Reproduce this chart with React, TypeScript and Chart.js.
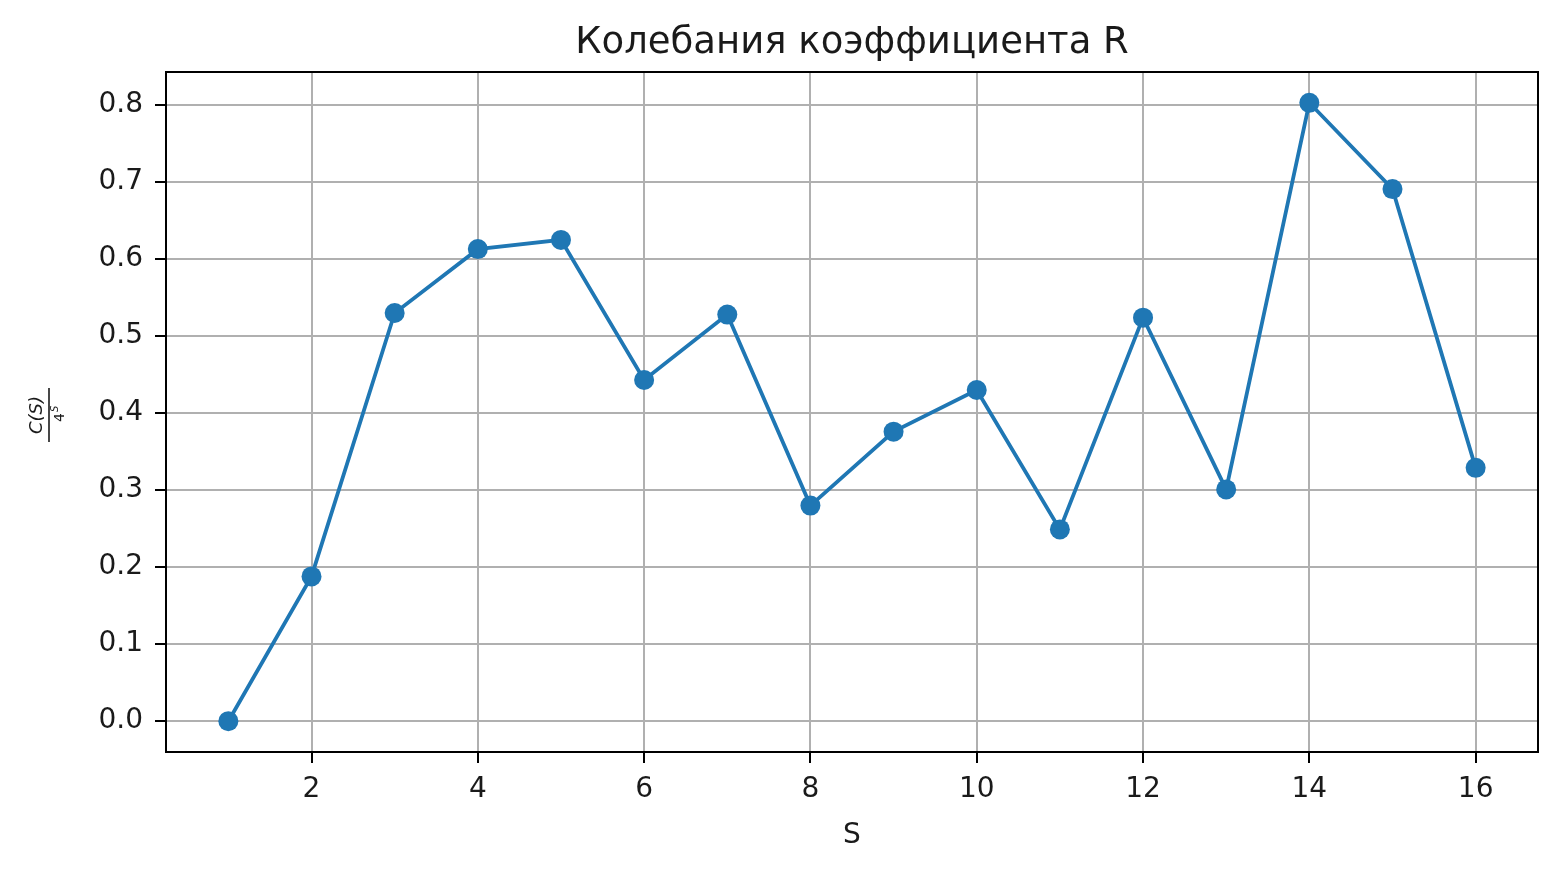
import { useEffect, useRef } from "react";
import Chart from "chart.js/auto";

const sValues = [1, 2, 3, 4, 5, 6, 7, 8, 9, 10, 11, 12, 13, 14, 15, 16];
const rValues = [0.0, 0.188, 0.53, 0.613, 0.625, 0.443, 0.528, 0.28, 0.376, 0.43, 0.249, 0.524, 0.301, 0.803, 0.691, 0.329];
const xTickValues = [2, 4, 6, 8, 10, 12, 14, 16];
const yTickValues = [0, 0.1, 0.2, 0.3, 0.4, 0.5, 0.6, 0.7, 0.8];

const titleText = "Колебания коэффициента R";
const xLabel = "S";

const FONT = "'DejaVu Sans', sans-serif";

// title, x label and the fraction y label, drawn like matplotlib does
const labelsPlugin = {
    id: "mplLabels",
    afterDatasetsDraw(chart: Chart) {
        const { ctx, chartArea } = chart;
        const cx = (chartArea.left + chartArea.right) / 2;
        ctx.save();
        // frame (top/right spines too)
        ctx.strokeStyle = "#000";
        ctx.lineWidth = 2;
        ctx.strokeRect(chartArea.left, chartArea.top, chartArea.right - chartArea.left, chartArea.bottom - chartArea.top);

        ctx.fillStyle = "#1a1a1a";
        ctx.textAlign = "center";
        ctx.textBaseline = "alphabetic";
        ctx.font = `37px ${FONT}`;
        ctx.fillText(titleText, cx, 53);

        ctx.font = `28px ${FONT}`;
        ctx.fillText(xLabel, cx, 843);

        // y label: C(S) / 4^S, rotated
        const cy = (chartArea.top + chartArea.bottom) / 2 + 3;
        ctx.translate(49, cy);
        ctx.rotate(-Math.PI / 2);
        ctx.textAlign = "center";
        ctx.font = `italic 18px ${FONT}`;
        ctx.fillText("C(S)", 0, -7);
        ctx.beginPath();
        ctx.moveTo(-27, 0);
        ctx.lineTo(27, 0);
        ctx.lineWidth = 1.6;
        ctx.strokeStyle = "#1a1a1a";
        ctx.stroke();
        ctx.font = `14px ${FONT}`;
        ctx.textAlign = "right";
        ctx.fillText("4", 2, 15);
        ctx.textAlign = "left";
        ctx.font = `italic 10px ${FONT}`;
        ctx.fillText("S", 3, 9);
        ctx.restore();
    },
};

export default function App() {
    const canvasRef = useRef<HTMLCanvasElement | null>(null);
    const chartRef = useRef<Chart | null>(null);

    useEffect(() => {
        document.body.style.margin = "0";
        if (!canvasRef.current) return;
        if (chartRef.current) chartRef.current.destroy();

        chartRef.current = new Chart(canvasRef.current, {
            type: "line",
            data: {
                datasets: [
                    {
                        data: sValues.map((s, i) => ({ x: s, y: rValues[i] })),
                        borderColor: "#1f77b4",
                        backgroundColor: "#1f77b4",
                        borderWidth: 3.8,
                        pointRadius: 10,
                        pointHoverRadius: 10,
                        pointBorderWidth: 0,
                        tension: 0,
                        fill: false,
                    },
                ],
            },
            options: {
                animation: false,
                responsive: false,
                devicePixelRatio: 1,
                layout: { padding: { left: 0, top: 72, right: 22, bottom: 0 } },
                plugins: {
                    legend: { display: false },
                    title: { display: false },
                    tooltip: { enabled: false },
                },
                scales: {
                    x: {
                        type: "linear",
                        min: 0.25,
                        max: 16.75,
                        afterFit: (scale: any) => {
                            scale.height = 132;
                        },
                        afterBuildTicks: (scale: any) => {
                            scale.ticks = xTickValues.map((v) => ({ value: v }));
                        },
                        grid: {
                            color: "#b0b0b0",
                            lineWidth: 2,
                            tickColor: "#000",
                            tickLength: 11,
                            tickWidth: 2,
                        },
                        border: { color: "#000", width: 2 },
                        ticks: {
                            color: "#1a1a1a",
                            padding: 10,
                            maxRotation: 0,
                            font: { family: FONT, size: 28 },
                        },
                    },
                    y: {
                        type: "linear",
                        min: -0.04,
                        max: 0.843,
                        afterFit: (scale: any) => {
                            scale.width = 166;
                        },
                        afterBuildTicks: (scale: any) => {
                            scale.ticks = yTickValues.map((v) => ({ value: v }));
                        },
                        grid: {
                            color: "#b0b0b0",
                            lineWidth: 2,
                            tickColor: "#000",
                            tickLength: 11,
                            tickWidth: 2,
                        },
                        border: { color: "#000", width: 2 },
                        ticks: {
                            color: "#1a1a1a",
                            padding: 12,
                            font: { family: FONT, size: 28 },
                            callback: (v: any) => Number(v).toFixed(1),
                        },
                    },
                },
            },
            plugins: [labelsPlugin],
        });

        return () => {
            chartRef.current?.destroy();
            chartRef.current = null;
        };
    }, []);

    return (
        <div style={{ width: 1560, height: 884, background: "#fff" }}>
            <canvas ref={canvasRef} width={1560} height={884} />
        </div>
    );
}
